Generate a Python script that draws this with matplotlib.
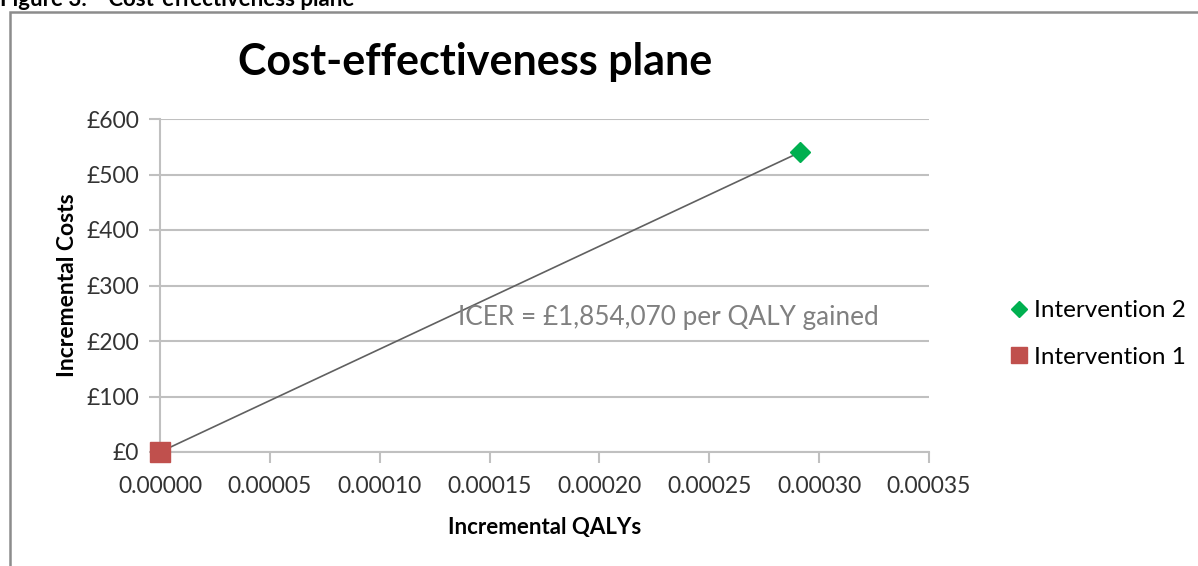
import matplotlib.pyplot as plt
from matplotlib.patches import Rectangle

# values
series_names = ["Intervention 2", "Intervention 1"]
qalys = [0.00029125, 0.0]
costs = [540.0, 0.0]
icer = 1854070
x_ticks = [0.0, 0.00005, 0.0001, 0.00015, 0.0002, 0.00025, 0.0003, 0.00035]
y_ticks = [0, 100, 200, 300, 400, 500, 600]

plt.rcParams["font.family"] = ["Lato", "DejaVu Sans"]

fig = plt.figure(figsize=(11.98, 5.66), dpi=100)
fig.patch.set_facecolor("white")

# outer chart border (frame cut at right/bottom)
fig.patches.append(Rectangle((10 / 1198, -0.05), 1.2, 1 - 12 / 566 + 0.05,
                             transform=fig.transFigure, fill=False,
                             edgecolor="#8c8c8c", linewidth=1.8))
# header above the frame, mostly cut off like in the source page
fig.text(0.0, 1 - 6 / 566, "Figure 3:    Cost-effectiveness plane", fontsize=16,
         fontweight="bold", va="baseline", ha="left", color="black")

ax = fig.add_axes([160 / 1198, 1 - 452 / 566, 769 / 1198, 333 / 566])

grid_col = "#c0c0c0"
ax.set_xlim(x_ticks[0], x_ticks[-1])
ax.set_ylim(y_ticks[0], y_ticks[-1])
ax.set_xticks(x_ticks)
ax.set_yticks(y_ticks)
ax.set_xticklabels([f"{v:.5f}" for v in x_ticks])
ax.set_yticklabels([f"£{v}" for v in y_ticks])
ax.yaxis.grid(True, color=grid_col, linewidth=1.5)
ax.set_axisbelow(True)
for side in ["top", "right"]:
    ax.spines[side].set_visible(False)
for side in ["left", "bottom"]:
    ax.spines[side].set_color(grid_col)
    ax.spines[side].set_linewidth(1.5)
ax.tick_params(axis="both", colors=grid_col, length=8, width=1.5, labelsize=16.5,
               labelcolor="#333333")
ax.tick_params(axis="x", pad=9)
ax.tick_params(axis="y", pad=7)

# connecting line
ax.plot([qalys[1], qalys[0]], [costs[1], costs[0]], color="#606060", linewidth=1.2,
        zorder=3)
ax.plot(qalys[0], costs[0], linestyle="none", marker="D", markersize=10,
        color="#00b050", label=series_names[0], zorder=4, clip_on=False)
ax.plot(qalys[1], costs[1], linestyle="none", marker="s", markersize=14,
        color="#c0504d", label=series_names[1], zorder=4, clip_on=False)

ax.text(0.3875, 0.405, f"ICER = £{icer:,.0f} per QALY gained", transform=ax.transAxes,
        fontsize=18.8, color="#808080", va="center", ha="left")

ax.set_xlabel("Incremental QALYs", fontsize=16, fontweight="bold", labelpad=15)
ax.set_ylabel("Incremental Costs", fontsize=16.5, fontweight="bold", labelpad=6)

fig.text(475 / 1198, 1 - 62 / 566, "Cost-effectiveness plane", fontsize=31,
         fontweight="bold", ha="center", va="center")

ax.legend(loc="center left", bbox_to_anchor=(1.079, 0.355), frameon=False,
          fontsize=17.5, handlelength=0.6, handletextpad=0.3, labelspacing=1.05,
          markerscale=0.8)

fig.savefig("out.png", dpi=100)
